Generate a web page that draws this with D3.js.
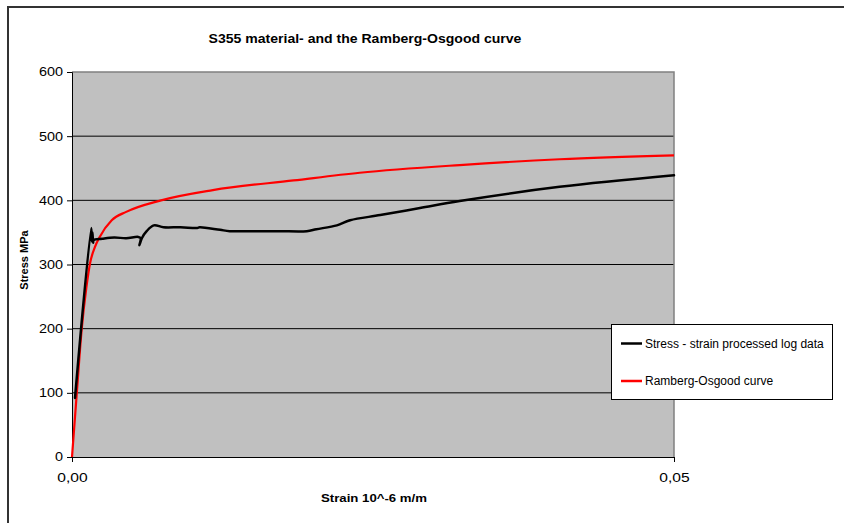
<!DOCTYPE html>
<html>
<head>
<meta charset="utf-8">
<script src="https://cdn.jsdelivr.net/npm/d3@7"></script>
<style>
  html, body { margin: 0; padding: 0; background: #fff; }
  svg { display: block; font-family: "Liberation Sans", Arial, sans-serif; }
</style>
</head>
<body>
<svg id="chart" width="844" height="523"></svg>
<script>
// Measured stress-strain test data (strain, stress MPa)
const logStrain = [0.00025, 0.0016, 0.00165, 0.0017, 0.00175, 0.0018, 0.0025, 0.0035, 0.0045, 0.0055, 0.0057, 0.0056, 0.0058, 0.0062, 0.0068, 0.0076, 0.0090, 0.0104, 0.0106, 0.0123, 0.0131, 0.0159, 0.0173, 0.0195, 0.0203, 0.0220, 0.0231, 0.0256, 0.0289, 0.0322, 0.0405, 0.0500];
const logStress = [92, 357, 336, 350, 334, 338, 340, 342, 341, 343, 341, 330, 341, 352, 361, 358, 358, 357, 358, 354, 352, 352, 352, 352, 355, 361, 369, 377, 388, 399, 421, 439];

// Ramberg-Osgood fitted curve (strain, stress MPa)
const roStrain = [0, 0.0004, 0.0008, 0.0012, 0.0015, 0.0019, 0.0023, 0.0033, 0.0045, 0.0074, 0.0117, 0.0184, 0.0239, 0.0322, 0.0405, 0.0500];
const roStress = [0, 100, 198, 265, 302, 327, 343, 369, 382, 400, 416, 431, 443, 455, 464, 470];

const yTicks = [0, 100, 200, 300, 400, 500, 600];
const xTicks = [0, 0.05];
const seriesNames = ["Stress - strain processed log data", "Ramberg-Osgood curve"];
const seriesColors = ["#000000", "#ff0000"];

const svg = d3.select("#chart");
const plot = { left: 72, right: 674, top: 72, bottom: 457 };

const x = d3.scaleLinear().domain([0, 0.05]).range([plot.left, plot.right]);
const y = d3.scaleLinear().domain([0, 600]).range([plot.bottom, plot.top]);

// Stretch a text element horizontally by a factor
function widen(sel, sx) {
  sel.each(function () {
    const w = this.getComputedTextLength();
    d3.select(this).attr("textLength", w * sx).attr("lengthAdjust", "spacingAndGlyphs");
  });
}

// Outer chart frame
svg.append("rect")
  .attr("x", 8).attr("y", 7).attr("width", 900).attr("height", 600)
  .attr("fill", "none").attr("stroke", "#333").attr("stroke-width", 2);

// Plot area
svg.append("rect")
  .attr("x", plot.left).attr("y", plot.top)
  .attr("width", plot.right - plot.left).attr("height", plot.bottom - plot.top)
  .attr("fill", "#c0c0c0");

// Horizontal gridlines
svg.append("g").selectAll("line")
  .data(yTicks.filter(d => d > 0 && d < 600))
  .join("line")
  .attr("x1", plot.left).attr("x2", plot.right)
  .attr("y1", d => y(d)).attr("y2", d => y(d))
  .attr("stroke", "#000").attr("stroke-width", 1);

// Plot border (top / right)
svg.append("path")
  .attr("d", `M${plot.left},${plot.top}H${plot.right}V${plot.bottom}`)
  .attr("fill", "none").attr("stroke", "#808080").attr("stroke-width", 1.5);

// Y axis
const yAxis = svg.append("g")
  .attr("transform", `translate(${plot.left},0)`)
  .call(d3.axisLeft(y).tickValues(yTicks).tickSize(5).tickPadding(4).tickFormat(d3.format("d")));
yAxis.select(".domain").attr("stroke", "#000");
yAxis.selectAll(".tick line").attr("stroke", "#000");
yAxis.selectAll("text").attr("font-size", 12).attr("fill", "#000")
  .call(widen, 1.2);

// X axis
const commaLocale = d3.formatLocale({ decimal: ",", thousands: ".", grouping: [3], currency: ["", ""] });
const xAxis = svg.append("g")
  .attr("transform", `translate(0,${plot.bottom})`)
  .call(d3.axisBottom(x).tickValues(xTicks).tickSize(5).tickPadding(11).tickFormat(commaLocale.format(".2f")));
xAxis.select(".domain").attr("stroke", "#000");
xAxis.selectAll(".tick line").attr("stroke", "#000");
xAxis.selectAll("text").attr("font-size", 12).attr("fill", "#000")
  .call(widen, 1.3);

// Series lines
const logData = logStrain.map((s, i) => [s, logStress[i]]);
const roData = roStrain.map((s, i) => [s, roStress[i]]);

svg.append("path")
  .datum(roData)
  .attr("fill", "none")
  .attr("stroke", seriesColors[1])
  .attr("stroke-width", 2.2)
  .attr("d", d3.line().x(d => x(d[0])).y(d => y(d[1])).curve(d3.curveMonotoneX));

svg.append("path")
  .datum(logData)
  .attr("fill", "none")
  .attr("stroke", seriesColors[0])
  .attr("stroke-width", 2.5)
  .attr("stroke-linejoin", "round")
  .attr("stroke-linecap", "round")
  .attr("d", d3.line().x(d => x(d[0])).y(d => y(d[1])).curve(d3.curveCatmullRom.alpha(0.5)));

// Title
svg.append("text")
  .attr("x", 365).attr("y", 43)
  .attr("text-anchor", "middle")
  .attr("font-size", 12).attr("font-weight", "bold")
  .text("S355 material- and the Ramberg-Osgood curve")
  .call(widen, 1.17);

// Axis titles
svg.append("text")
  .attr("transform", "translate(28,260) rotate(-90)")
  .attr("text-anchor", "middle")
  .attr("font-size", 11).attr("font-weight", "bold")
  .text("Stress MPa");

svg.append("text")
  .attr("x", 374).attr("y", 502)
  .attr("text-anchor", "middle")
  .attr("font-size", 11).attr("font-weight", "bold")
  .text("Strain 10^-6 m/m")
  .call(widen, 1.2);

// Legend
const legend = svg.append("g");
legend.append("rect")
  .attr("x", 611.5).attr("y", 324.5).attr("width", 221).attr("height", 75)
  .attr("fill", "#fff").attr("stroke", "#000").attr("stroke-width", 1);
const items = legend.selectAll("g.item")
  .data(seriesNames)
  .join("g").attr("class", "item")
  .attr("transform", (d, i) => `translate(0,${[343.5, 381][i]})`);
items.append("line")
  .attr("x1", 621).attr("x2", 642)
  .attr("stroke", (d, i) => seriesColors[i]).attr("stroke-width", 2.5);
items.append("text")
  .attr("x", 645).attr("y", 4.3)
  .attr("font-size", 12)
  .text(d => d);
</script>
</body>
</html>
